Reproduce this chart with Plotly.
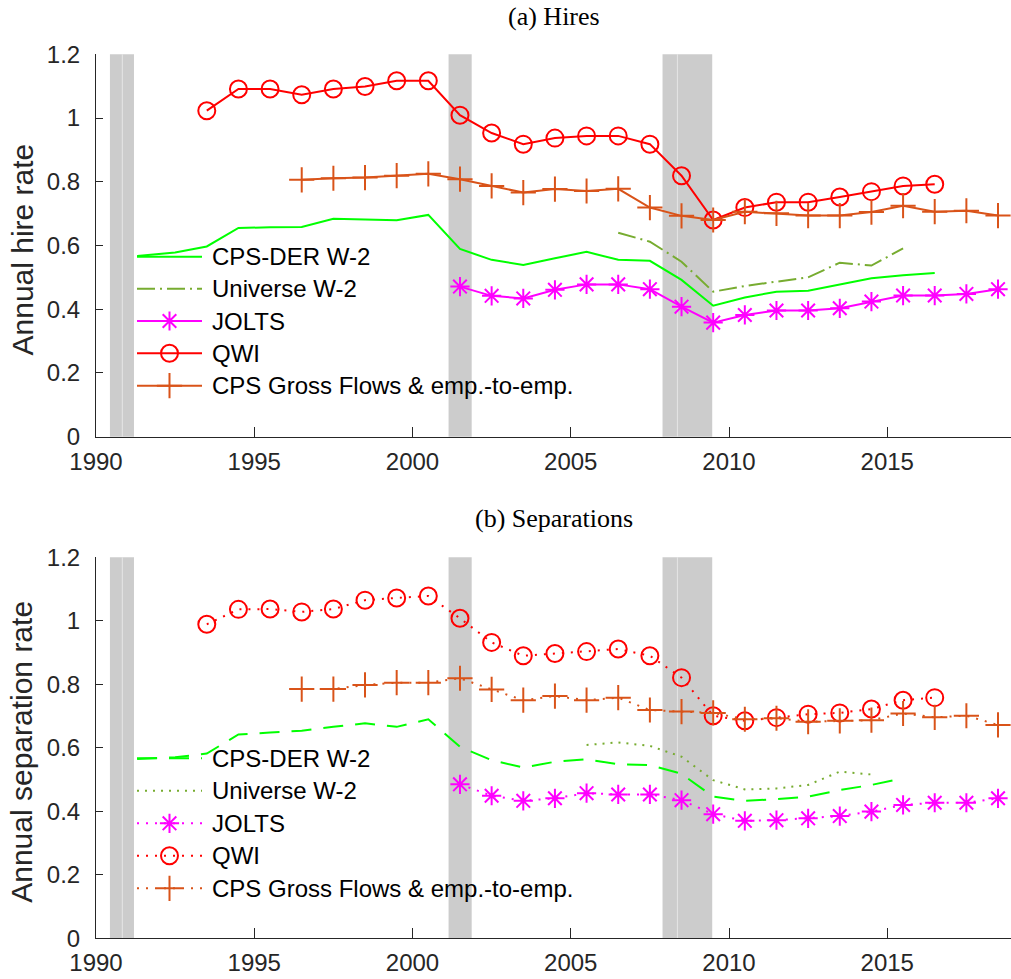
import plotly.graph_objects as go

# ---------------- data ----------------
qwi_years = list(range(1993, 2017))
qwi_hires = [1.023, 1.091, 1.091, 1.073, 1.091, 1.099, 1.117, 1.117, 1.009, 0.953, 0.918, 0.937,
             0.944, 0.944, 0.918, 0.819, 0.680, 0.719, 0.736, 0.736, 0.752, 0.769, 0.787, 0.792]
qwi_seps = [0.989, 1.036, 1.037, 1.028, 1.037, 1.065, 1.072, 1.078, 1.008, 0.932, 0.890, 0.897,
            0.903, 0.911, 0.890, 0.821, 0.701, 0.685, 0.695, 0.706, 0.710, 0.722, 0.750, 0.758]

cpsgf_years = list(range(1996, 2019))
cpsgf_hires = [0.806, 0.811, 0.813, 0.819, 0.825, 0.808, 0.787, 0.766, 0.777, 0.771, 0.778, 0.719,
               0.693, 0.680, 0.706, 0.701, 0.694, 0.694, 0.705, 0.725, 0.706, 0.709, 0.694]
cpsgf_seps = [0.785, 0.785, 0.798, 0.805, 0.805, 0.819, 0.784, 0.750, 0.763, 0.750, 0.758, 0.719,
              0.714, 0.710, 0.690, 0.693, 0.682, 0.685, 0.687, 0.708, 0.696, 0.701, 0.672]

jolts_years = list(range(2001, 2019))
jolts_hires = [0.471, 0.442, 0.434, 0.461, 0.478, 0.478, 0.463, 0.408, 0.358, 0.382, 0.396, 0.396,
               0.403, 0.424, 0.443, 0.443, 0.448, 0.463]
jolts_seps = [0.485, 0.449, 0.433, 0.441, 0.457, 0.453, 0.453, 0.435, 0.391, 0.370, 0.372, 0.378,
              0.385, 0.399, 0.420, 0.427, 0.427, 0.441]

cpsder_t_hires = [1991.3] + [y + 0.5 for y in range(1992, 2017)]
cpsder_hires = [0.567, 0.578, 0.597, 0.655, 0.657, 0.658, 0.684, 0.681, 0.679, 0.696, 0.589, 0.555,
                0.539, 0.560, 0.580, 0.555, 0.552, 0.492, 0.411, 0.437, 0.455, 0.458, 0.478, 0.497,
                0.507, 0.514]
cpsder_t_seps = [1991.3] + [y + 0.5 for y in range(1992, 2016)]
cpsder_seps = [0.565, 0.570, 0.582, 0.642, 0.648, 0.654, 0.666, 0.677, 0.666, 0.690, 0.603, 0.561,
               0.538, 0.556, 0.564, 0.548, 0.546, 0.518, 0.446, 0.433, 0.438, 0.446, 0.467, 0.483,
               0.504]

univ_years_hires = list(range(2006, 2016))
univ_hires = [0.640, 0.612, 0.549, 0.455, 0.473, 0.487, 0.500, 0.546, 0.537, 0.591]
univ_years_seps = list(range(2005, 2015))
univ_seps = [0.609, 0.617, 0.606, 0.572, 0.498, 0.469, 0.472, 0.483, 0.525, 0.516]

recessions = [(1990.44, 1990.83), (1990.83, 1991.2), (2001.14, 2001.87),
              (2007.9, 2008.37), (2008.37, 2009.47)]

x_ticks = [1990, 1995, 2000, 2005, 2010, 2015]
y_ticks = [0, 0.2, 0.4, 0.6, 0.8, 1.0, 1.2]
y_ticklabels = ["0", "0.2", "0.4", "0.6", "0.8", "1", "1.2"]

legend_names = ["CPS-DER W-2", "Universe W-2", "JOLTS", "QWI", "CPS Gross Flows & emp.-to-emp."]
panel_titles = ["(a) Hires", "(b) Separations"]
y_titles = ["Annual hire rate", "Annual separation rate"]

MID = 0.5  # observations plotted at mid-year

# ---------------- styles ----------------
C_DER = "#00FF00"
C_UNIV = "#77AC30"
C_JOLTS = "#FF00FF"
C_QWI = "#FF0000"
C_GF = "#D95319"
AX = "#262626"
LW = 2
DOT = "2px,7px"

W, H = 1011, 979
PLOT_L = 96
TOP_PANEL = (54.3, 436.7)
BOT_PANEL = (557.3, 938.3)
XMAX = 1990 + (W - PLOT_L) / 31.65


def ydom(p):
    return [(H - p[1]) / H, (H - p[0]) / H]


fig = go.Figure()


def shift(ys):
    return [y + MID for y in ys]


panels = [
    dict(xa="x", ya="y", solid="solid", der_dash="solid", univ_dash="18px,5px,2px,5px",
         der=(cpsder_t_hires, cpsder_hires), univ=(univ_years_hires, univ_hires),
         jolts=jolts_hires, qwi=qwi_hires, gf=cpsgf_hires),
    dict(xa="x2", ya="y2", solid=DOT, der_dash="20px,12px", univ_dash="2px,6px",
         der=(cpsder_t_seps, cpsder_seps), univ=(univ_years_seps, univ_seps),
         jolts=jolts_seps, qwi=qwi_seps, gf=cpsgf_seps),
]

MK = {"asterisk-open": 16, "circle-open": 17, "cross-thin-open": 18}

for p in panels:
    fig.add_trace(go.Scatter(x=p["der"][0], y=p["der"][1], mode="lines", xaxis=p["xa"], yaxis=p["ya"],
                             line=dict(color=C_DER, width=LW, dash=p["der_dash"]), showlegend=False))
    fig.add_trace(go.Scatter(x=shift(p["univ"][0]), y=p["univ"][1], mode="lines", xaxis=p["xa"], yaxis=p["ya"],
                             line=dict(color=C_UNIV, width=LW, dash=p["univ_dash"]), showlegend=False))
    for xs, ys, col, sym in [(jolts_years, p["jolts"], C_JOLTS, "asterisk-open"),
                             (qwi_years, p["qwi"], C_QWI, "circle-open"),
                             (cpsgf_years, p["gf"], C_GF, "cross-thin-open")]:
        fig.add_trace(go.Scatter(x=shift(xs), y=ys, mode="lines+markers", xaxis=p["xa"], yaxis=p["ya"],
                                 line=dict(color=col, width=LW, dash=p["solid"]),
                                 marker=dict(symbol=sym, size=MK[sym], color=col,
                                             line=dict(color=col, width=2)),
                                 showlegend=False))

# recession bands
shapes = []
for xr, yr in [("x", "y domain"), ("x2", "y2 domain")]:
    for s, e in recessions:
        shapes.append(dict(type="rect", xref=xr, yref=yr, x0=s, x1=e, y0=0, y1=1,
                           fillcolor="#CCCCCC", line=dict(width=0), layer="below"))
    for (s1, e1), (s2, e2) in zip(recessions[:-1], recessions[1:]):
        if abs(e1 - s2) < 1e-9:
            shapes.append(dict(type="line", xref=xr, yref=yr, x0=e1, x1=e1, y0=0, y1=1,
                               line=dict(color="#E4E4E4", width=1), layer="below"))

# custom legends in pixel overlay
legend_styles = [
    (C_DER, None), (C_UNIV, None), (C_JOLTS, "asterisk-open"), (C_QWI, "circle-open"), (C_GF, "cross-thin-open")
]
legend_rows = [[256.7, 288.7, 321.0, 353.3, 385.7], [758.3, 790.7, 823.3, 855.7, 888.3]]
annotations = []
for pi, p in enumerate(panels):
    dashes = [p["der_dash"], p["univ_dash"], p["solid"], p["solid"], p["solid"]]
    for i, name in enumerate(legend_names):
        yy = legend_rows[pi][i]
        col, sym = legend_styles[i]
        fig.add_trace(go.Scatter(x=[137, 202], y=[yy, yy], mode="lines", xaxis="x3", yaxis="y3",
                                 line=dict(color=col, width=LW, dash=dashes[i]), showlegend=False,
                                 hoverinfo="skip"))
        if sym:
            fig.add_trace(go.Scatter(x=[169.5], y=[yy], mode="markers", xaxis="x3", yaxis="y3",
                                     marker=dict(symbol=sym, size=MK[sym], color=col,
                                                 line=dict(color=col, width=2)),
                                     showlegend=False, hoverinfo="skip"))
        annotations.append(dict(x=210, y=yy, xref="x3", yref="y3", text=name, showarrow=False,
                                xanchor="left", yanchor="middle",
                                font=dict(family="Liberation Sans", size=24, color="#000000")))

# panel titles & y titles
for t, ymid in zip(panel_titles, [16, 518]):
    annotations.append(dict(x=(PLOT_L + W) / 2, y=ymid, xref="x3", yref="y3", text=t, showarrow=False,
                            xanchor="center", yanchor="middle",
                            font=dict(family="Liberation Serif", size=26, color="#000000")))
for t, pnl in zip(y_titles, [TOP_PANEL, BOT_PANEL]):
    annotations.append(dict(x=22, y=(pnl[0] + pnl[1]) / 2 + 4, xref="x3", yref="y3", text=t, showarrow=False,
                            textangle=-90, xanchor="center", yanchor="middle",
                            font=dict(family="Liberation Sans", size=30, color=AX)))

xcommon = dict(range=[1990, XMAX], domain=[PLOT_L / W, 1], tickvals=x_ticks,
               ticktext=[str(v) for v in x_ticks], ticks="inside", ticklen=10, tickwidth=1,
               tickcolor=AX, showline=True, linecolor=AX, linewidth=1, showgrid=False, zeroline=False,
               tickfont=dict(family="Liberation Sans", size=24, color=AX), ticklabelstandoff=3,
               automargin=False)
ycommon = dict(range=[0, 1.2], tickvals=y_ticks, ticktext=y_ticklabels, ticks="inside", ticklen=7,
               tickwidth=1, tickcolor=AX, showline=True, linecolor=AX, linewidth=1, showgrid=False,
               zeroline=False, tickfont=dict(family="Liberation Sans", size=24, color=AX),
               ticklabelstandoff=10, automargin=False)

fig.update_layout(
    width=W, height=H,
    margin=dict(l=0, r=0, t=0, b=0, autoexpand=False),
    paper_bgcolor="white", plot_bgcolor="rgba(0,0,0,0)",
    xaxis=dict(**xcommon, anchor="y"),
    yaxis=dict(**ycommon, domain=ydom(TOP_PANEL), anchor="x"),
    xaxis2=dict(**xcommon, anchor="y2"),
    yaxis2=dict(**ycommon, domain=ydom(BOT_PANEL), anchor="x2"),
    xaxis3=dict(range=[0, W], domain=[0, 1], visible=False, anchor="y3", fixedrange=True,
                automargin=False),
    yaxis3=dict(range=[H, 0], domain=[0, 1], visible=False, anchor="x3", fixedrange=True,
                automargin=False),
    shapes=shapes,
    annotations=annotations,
    showlegend=False,
)

fig.write_html("out.html")
